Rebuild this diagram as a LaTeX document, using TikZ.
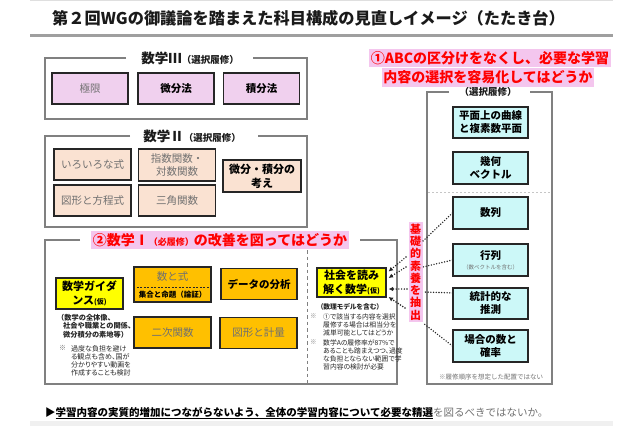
\documentclass[tikz,border=0pt]{standalone}
\usepackage{fontspec}
\setmainfont{Noto Sans CJK JP}
\newfontfamily\pfont{Noto Sans CJK JP}[RawFeature=+palt]
\usetikzlibrary{arrows.meta,calc}
\newcommand\myfs[1]{\fontsize{#1}{#1}\selectfont}
\newcommand\myfsl[2]{\fontsize{#1}{#2}\selectfont}
\definecolor{framegray}{HTML}{808080}
\definecolor{boxline}{HTML}{262626}
\definecolor{pinkbox}{HTML}{F0D0EE}
\definecolor{peachbox}{HTML}{FAE2D2}
\definecolor{orangebox}{HTML}{FFC000}
\definecolor{yellowbox}{HTML}{FFFF00}
\definecolor{cyanbox}{HTML}{CCF8F8}
\definecolor{hlpink}{HTML}{F4C6EE}
\definecolor{hlred}{HTML}{FF0000}
\definecolor{txtgray}{HTML}{707070}
\definecolor{titlecol}{HTML}{1A1A1A}
\begin{document}
\begin{tikzpicture}[x=1pt,y=-1pt,
  grp/.style={draw=framegray,line width=1.6pt},
  grptitle/.style={inner sep=0pt,font=\bfseries,text=titlecol},
  bx/.style={draw=boxline,line width=1.1pt,minimum width=76pt,minimum height=31pt,align=center,inner sep=1pt},
  gb/.style={bx,text=txtgray,font=\myfsl{10.5}{13}},
  bb/.style={bx,text=black,font=\myfsl{10.5}{13}\bfseries},
  hl/.style={fill=hlpink,text=hlred,font=\myfs{14}\bfseries,inner xsep=1.5pt,inner ysep=2.6pt},
  dotline/.style={draw=black!85,line width=1.6pt,dash pattern=on 0pt off 2.7pt,line cap=round},
  arr/.style={dotline,-{Latex[length=4.5pt,width=4.5pt]}},
  note/.style={anchor=north west,inner sep=0pt,align=left,text=black!85},
]
\useasboundingbox (0,0) rectangle (640,426);
% header
\draw[gray!25,line width=0.6pt] (30,0.5) -- (613,0.5);
\node[anchor=west,font=\myfs{16.2}\bfseries,text=titlecol,inner sep=0pt] (title) at (52,18) {第２回WGの御議論を踏まえた科目構成の見直しイメージ（たたき台）};
\draw[gray!75,line width=2.5pt] (30,35.5) -- (613,35.5);

% group frames
\draw[grp] (126,58) -| (45,119) -| (307,58) -- (253,58);
\draw[grp] (130,136) -| (45,227) -| (307,136) -- (258,136);
\draw[grp] (80,240) -| (45,384) -| (397,240) -- (360,240);
\draw[grp] (449,92) -| (427,384) -| (552,92) -- (530,92);

\node[grptitle] (t3) at (190,58) {{\myfs{13.5}数学Ⅲ}{\myfs{9.5}（選択履修）}};
\node[grptitle] (t2) at (192,136) {{\myfs{13.5}数学Ⅱ}{\myfs{9.5}（選択履修）}};
\node[grptitle] (tr) at (488,92) {\myfs{9.5}（選択履修）};

% Math III
\node[gb,fill=pinkbox] (c1) at (90,88.5) {極限};
\node[bb,fill=pinkbox] (c2) at (176,88.5) {微分法};
\node[bb,fill=pinkbox] (c3) at (261.5,88.5) {積分法};

% Math II
\node[gb,fill=peachbox,minimum width=77pt] (b1) at (92.5,164.5) {いろいろな式};
\node[gb,fill=peachbox,minimum width=77pt,minimum height=32pt] (b2) at (177,165) {指数関数・\\対数関数};
\node[gb,fill=peachbox,minimum width=77pt] (b3) at (92.5,200.5) {図形と方程式};
\node[gb,fill=peachbox,minimum width=77pt] (b4) at (177,200.5) {三角関数};
\node[bb,fill=peachbox,minimum width=78pt,minimum height=32pt,font=\myfsl{11}{14}\bfseries] (b5) at (262,176) {微分・積分の\\考え};

% Math I heading
\node[hl,font=\bfseries] (h2) at (220,240) {{\myfs{14}②数学Ⅰ}{\myfs{9}（必履修）}{\myfs{14}の改善を図ってはどうか}};
\draw[framegray,line width=1pt,dash pattern=on 3.5pt off 3pt] (307,250) -- (307,384);

% Math I boxes
\node[bb,fill=yellowbox,minimum width=67pt,font=\myfsl{11}{14}\bfseries] (g) at (89.5,293.5) {数学ガイダ\\ンス{\myfs{7}(仮)}};
\node[bx,fill=orangebox,minimum width=77pt,minimum height=35pt] (a1) at (172.5,284.5) {};
\draw[boxline,line width=0.8pt,dash pattern=on 2pt off 1.5pt] (a1.west |- 0,287) -- (a1.east |- 0,287);
\node[text=txtgray,font=\myfs{10.5},inner sep=0pt] (a1t) at (172.5,277) {数と式};
\node[font=\myfs{7.5}\bfseries,inner sep=0pt] (a1s) at (172.5,295) {集合と命題（論証）};
\node[bb,fill=orangebox] (a2) at (259,284) {データの分析};
\node[gb,fill=orangebox,minimum width=77pt] (a3) at (172.5,332.5) {二次関数};
\node[gb,fill=orangebox,minimum width=77pt] (a4) at (258.5,333) {図形と計量};
\node[bb,fill=yellowbox,minimum width=69pt,minimum height=29pt,font=\myfsl{11}{13.5}\bfseries] (sh) at (351.5,282.5) {社会を読み\\解く数学{\myfs{7}(仮)}};

% notes under guidance
\node[note,font=\myfsl{7.2}{8.4}\bfseries] (gn) at (57,314) {（数学の全体像、\\\hspace*{6pt}社会や職業との関係、\\\hspace*{6pt}微分積分の素地等）};
\node[note,font=\myfs{7},text=txtgray] (gm) at (59,345.5) {※};
\node[note,font=\pfont\myfsl{7}{8.3}] (gt) at (71,345) {過度な負担を避け\\る観点も含め、国が\\分かりやすい動画を\\作成することも検討};

% notes under shakai
\node[font=\pfont\myfs{6.8}\bfseries,inner sep=0pt,text=black!85] (shm) at (350,307) {（数理モデルを含む）};
\node[note,font=\myfs{6.5},text=txtgray] (m1) at (310,313.5) {※};
\node[note,font=\pfont\myfsl{6.8}{8}] (m1t) at (323,313.5) {①で該当する内容を選択\\履修する場合は相当分を\\減単可能としてはどうか};
\node[note,font=\myfs{6.5},text=txtgray] (m2) at (310,339.5) {※};
\node[note,font=\pfont\myfsl{6.8}{8}] (m2t) at (323,339.5) {数学Aの履修率が87\%で\\あることも踏まえつつ、過度\\な負担とならない範囲で学\\習内容の検討が必要};

% right heading
\node[hl] (h1a) at (490,58) {①ABCの区分けをなくし、必要な学習};
\node[hl] (h1b) at (488,77.5) {内容の選択を容易化してはどうか};

% right column
\node[bb,fill=cyanbox,minimum width=75pt] (r1) at (490.5,122.5) {平面上の曲線\\と複素数平面};
\node[bb,fill=cyanbox,minimum width=75pt,minimum height=32pt] (r2) at (490.5,168) {幾何\\ベクトル};
\draw[gray!45,line width=0.7pt,dash pattern=on 2pt off 2pt] (428,192) -- (551,192);
\node[bb,fill=cyanbox,minimum width=75pt,minimum height=32pt] (s1) at (490.5,213) {数列};
\node[bb,fill=cyanbox,minimum width=75pt,minimum height=32pt] (s2) at (490.5,260) {行列\\[-3pt]{\myfs{5.5}\mdseries\color{txtgray}（数ベクトルを含む）}};
\node[bb,fill=cyanbox,minimum width=75pt] (s3) at (490.5,303.5) {統計的な\\推測};
\node[bb,fill=cyanbox,minimum width=75pt,minimum height=32pt] (s4) at (490.5,346) {場合の数と\\確率};
\node[font=\myfs{6.5},text=txtgray,inner sep=0pt] (rn) at (491,377) {※履修順序を想定した配置ではない};

% vertical label
\node[fill=hlpink,text=hlred,font=\myfsl{11}{12.3}\bfseries,align=center,inner xsep=1.5pt,inner ysep=2pt] (k) at (415.5,272) {基\\礎\\的\\素\\養\\を\\抽\\出};

% dotted connectors
\coordinate (kr1) at (423,241);
\coordinate (kr2) at (423,267);
\coordinate (kr3) at (423,292);
\coordinate (kr4) at (423,323);
\coordinate (s3a) at ($(s3.north west)!0.17!(s3.south west)$);
\draw[dotline] (s1.west) -- (kr1);
\draw[dotline] (s2.west) -- (kr2);
\draw[dotline] (s3a) -- (kr3);
\draw[dotline] (s4.west) -- (kr4);
\coordinate (kl1) at (406,257);
\coordinate (kl2) at (406,267);
\coordinate (kl3) at (407,289);
\coordinate (kl4) at (405,308);
\coordinate (sh1) at ($(sh.east)+(2,-11)$);
\coordinate (sh2) at ($(sh.east)+(2,-4.5)$);
\coordinate (sh3) at ($(sh.east)+(2,6.5)$);
\coordinate (sh4) at ($(sh.east)+(2,14.5)$);
\draw[arr] (kl1) -- (sh1);
\draw[arr] (kl2) -- (sh2);
\draw[arr] (kl3) -- (sh3);
\draw[arr] (kl4) -- (sh4);

% bottom statement
\node[anchor=west,inner sep=0pt,font=\myfs{10.5}] (bt) at (45,413) {{\bfseries ▶\underline{学習内容の実質的増加につながらないよう、全体の学習内容について必要な精選}}\textcolor{txtgray}{を図るべきではないか。}};
\fill[gray!12] (30,421) rectangle (613,426);
\end{tikzpicture}
\end{document}
